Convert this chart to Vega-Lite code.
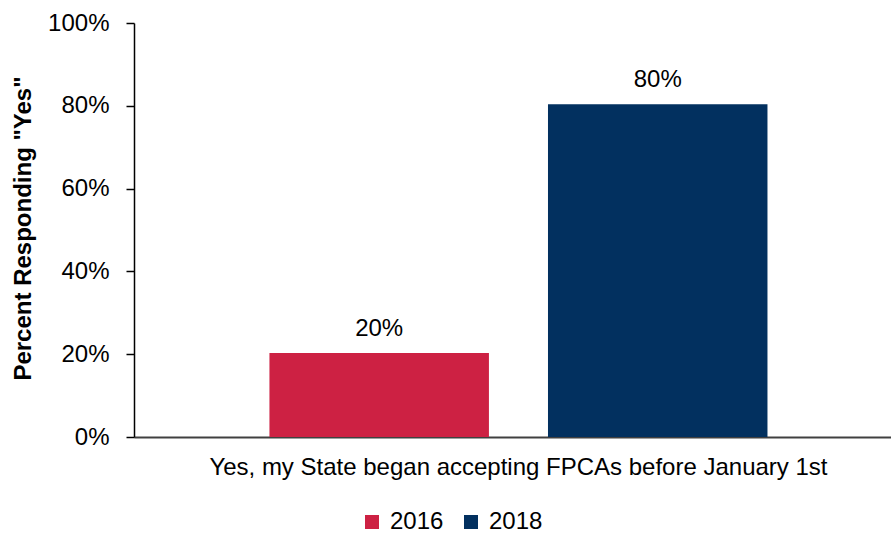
{
  "$schema": "https://vega.github.io/schema/vega-lite/v6.json",
  "width": 757,
  "height": 414,
  "autosize": {"type": "none"},
  "padding": {"left": 134, "top": 23, "right": 0, "bottom": 98},
  "background": "white",
  "config": {"font": "Liberation Sans", "view": {"stroke": null}},
  "data": {
    "values": [
      {"category": "Yes, my State began accepting FPCAs before January 1st", "year": "2016", "value": 0.203},
      {"category": "Yes, my State began accepting FPCAs before January 1st", "year": "2018", "value": 0.804}
    ]
  },
  "encoding": {
    "x": {
      "field": "category",
      "type": "nominal",
      "scale": {"paddingInner": 0, "paddingOuter": 0.26, "align": 0.523},
      "axis": {
        "title": null,
        "labelAngle": 0,
        "ticks": false,
        "domainColor": "#404040",
        "domainWidth": 2,
        "labelFontSize": 24,
        "labelColor": "#000000",
        "labelPadding": 18,
        "labelLimit": 0
      }
    },
    "xOffset": {
      "field": "year",
      "type": "nominal",
      "scale": {"paddingInner": 0.212, "paddingOuter": 0}
    },
    "y": {
      "field": "value",
      "type": "quantitative",
      "scale": {"domain": [0, 1]},
      "axis": {
        "values": [0, 0.2, 0.4, 0.6, 0.8, 1],
        "format": ".0%",
        "grid": false,
        "tickSize": 8,
        "tickColor": "#000000",
        "domainColor": "#000000",
        "domainWidth": 1.5,
        "tickWidth": 1.5,
        "labelFontSize": 24,
        "labelColor": "#000000",
        "labelPadding": 17,
        "title": "Percent Responding \"Yes\"",
        "titleFontSize": 24,
        "titleFontWeight": "bold",
        "titleColor": "#000000",
        "titleX": -104,
        "titleY": 205,
        "titleBaseline": "alphabetic"
      }
    }
  },
  "layer": [
    {
      "mark": {"type": "bar"},
      "encoding": {
        "color": {
          "field": "year",
          "type": "nominal",
          "scale": {"range": ["#CD2143", "#02305F"]},
          "legend": {
            "title": null,
            "orient": "none",
            "legendX": 226,
            "legendY": 487,
            "direction": "horizontal",
            "symbolType": "square",
            "symbolSize": 196,
            "symbolStrokeWidth": 0,
            "labelFontSize": 24,
            "labelColor": "#000000",
            "columnPadding": 15,
            "labelOffset": 6
          }
        }
      }
    },
    {
      "mark": {"type": "text", "dy": -17, "baseline": "alphabetic", "fontSize": 24, "color": "#000000"},
      "encoding": {"text": {"field": "value", "type": "quantitative", "format": ".0%"}}
    }
  ]
}
